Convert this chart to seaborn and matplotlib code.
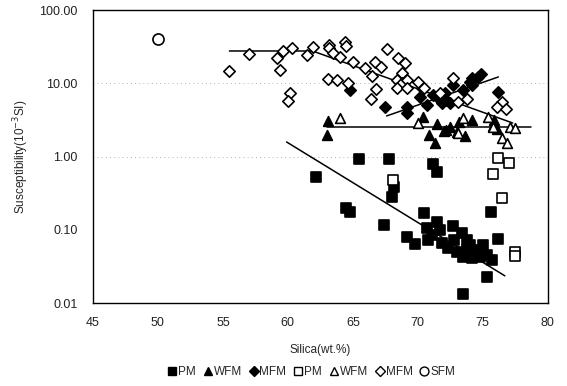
import numpy as np
import pandas as pd
import matplotlib
matplotlib.use("Agg")
import matplotlib.pyplot as plt
import seaborn as sns
from matplotlib.lines import Line2D
from matplotlib.ticker import FixedLocator, FixedFormatter

# ---------------- data ----------------
pm_f_x = [65.5, 67.8, 71.2, 71.5, 62.2, 68.2, 68.0, 64.5, 64.8, 67.4, 70.5, 71.5, 70.7, 71.1,
          70.8, 69.2, 69.8, 72.7, 73.4, 73.8, 71.9, 72.3, 73.0, 73.5, 74.2, 75.0, 75.3, 75.7,
          75.3, 73.5, 75.6, 76.2, 73.8, 74.8, 71.7, 74.0, 72.8, 74.6]
pm_f_y = [0.93, 0.93, 0.79, 0.62, 0.53, 0.38, 0.28, 0.20, 0.175, 0.117, 0.17, 0.128, 0.106, 0.085,
          0.073, 0.080, 0.064, 0.113, 0.091, 0.073, 0.066, 0.057, 0.050, 0.043, 0.041, 0.062, 0.045, 0.039,
          0.023, 0.0133, 0.175, 0.075, 0.053, 0.043, 0.10, 0.062, 0.073, 0.053]

wfm_f_x = [63.1, 63.0, 70.4, 70.9, 71.3, 71.5, 72.2, 72.5, 73.2, 73.6, 74.2, 75.9, 75.8, 73.0, 72.0, 76.1]
wfm_f_y = [3.06, 1.97, 3.47, 1.97, 1.53, 2.79, 2.31, 2.5, 2.97, 1.91, 3.15, 3.15, 2.6, 2.17, 2.2, 2.4]

mfm_f_x = [64.8, 67.5, 69.2, 69.2, 70.3, 70.2, 70.7, 71.2, 72.1, 72.2, 72.5, 71.9, 72.7, 73.5,
           74.0, 74.2, 74.6, 74.9, 74.2, 76.2, 71.7]
mfm_f_y = [8.1, 4.75, 4.75, 3.9, 8.6, 6.5, 5.1, 6.9, 7.4, 5.9, 5.4, 5.4, 9.5, 8.1,
           10.4, 11.8, 12.2, 13.4, 9.5, 7.6, 5.9]

pm_o_x = [76.2, 77.0, 75.8, 76.5, 77.5, 77.5, 68.1]
pm_o_y = [0.96, 0.82, 0.58, 0.27, 0.050, 0.044, 0.48]

wfm_o_x = [64.0, 70.0, 73.5, 73.1, 75.4, 75.8, 77.1, 77.5, 76.5, 76.9]
wfm_o_y = [3.4, 2.87, 3.4, 2.1, 3.5, 2.5, 2.5, 2.45, 1.8, 1.53]

mfm_o_x = [55.5, 57.0, 59.2, 59.4, 59.6, 60.3, 60.2, 60.0, 61.5, 61.9, 63.2, 63.2, 64.4, 64.5,
           63.5, 64.0, 65.0, 65.9, 66.7, 67.2, 66.5, 67.6, 68.5, 69.0, 68.8, 68.4, 68.8, 69.2,
           70.0, 68.4, 69.2, 63.1, 63.8, 64.6, 66.8, 66.4, 72.7, 73.1, 76.5, 76.1, 76.8, 70.5,
           71.7, 73.8]
mfm_o_y = [14.7, 25.1, 22.1, 15.2, 27.6, 30.3, 7.4, 5.7, 24.3, 31.3, 33.4, 30.3, 36.6, 32.3,
           25.9, 22.8, 19.5, 16.2, 19.5, 16.7, 12.6, 29.4, 22.1, 18.9, 13.8, 11.1, 10.1, 11.1,
           10.5, 8.6, 8.6, 11.5, 11.1, 10.1, 8.3, 6.1, 11.8, 5.6, 5.6, 4.75, 4.4, 8.6,
           7.4, 6.1]

sfm_o_x = [50.0]
sfm_o_y = [40.0]

# trend lines (fitted values)
trend_pm_x = [59.9, 76.7]
trend_pm_y = [1.58, 0.0235]
trend_wfm_x = [63.0, 78.7]
trend_wfm_y = [2.5, 2.5]
trend_mfm_f_x = [67.6, 76.2]
trend_mfm_f_y = [3.58, 12.2]
trend_mfm_o_x = [55.5, 61.9, 77.3]
trend_mfm_o_y = [27.6, 27.6, 2.87]

legend_labels = ["PM", "WFM", "MFM", "PM", "WFM", "MFM", "SFM"]
x_ticks = [45, 50, 55, 60, 65, 70, 75, 80]
y_ticks = [0.01, 0.1, 1, 10, 100]
y_tick_labels = ["0.01", "0.10", "1.00", "10.00", "100.00"]

# ---------------- plot ----------------
sns.set_theme(style="white")
plt.rcParams['font.family'] = ['Liberation Sans', 'DejaVu Sans']

fig = plt.figure(figsize=(5.67, 3.86), dpi=100)
ax = fig.add_axes([0.164, 0.215, 0.802, 0.759])

series = [
    (pm_f_x, pm_f_y, "s", True, 7.0),
    (wfm_f_x, wfm_f_y, "^", True, 7.0),
    (mfm_f_x, mfm_f_y, "D", True, 5.8),
    (pm_o_x, pm_o_y, "s", False, 6.5),
    (wfm_o_x, wfm_o_y, "^", False, 7.0),
    (mfm_o_x, mfm_o_y, "D", False, 5.8),
    (sfm_o_x, sfm_o_y, "o", False, 8.0),
]

handles = []
for (xs, ys, m, filled, ms), lab in zip(series, legend_labels):
    df = pd.DataFrame({"x": xs, "y": ys})
    sns.scatterplot(data=df, x="x", y="y", ax=ax, marker=m, s=ms ** 2,
                    facecolor="black" if filled else "white",
                    edgecolor="black", linewidth=1.2, zorder=3, legend=False)
    handles.append(Line2D([], [], linestyle="none", marker=m, markersize=ms * 0.8,
                          markerfacecolor="black" if filled else "white",
                          markeredgecolor="black", markeredgewidth=1.0, label=lab))

for tx, ty in [(trend_pm_x, trend_pm_y), (trend_wfm_x, trend_wfm_y),
               (trend_mfm_f_x, trend_mfm_f_y), (trend_mfm_o_x, trend_mfm_o_y)]:
    sns.lineplot(x=tx, y=ty, ax=ax, color="black", linewidth=1.1, sort=False,
                 estimator=None, zorder=2)

ax.set_yscale("log")
ax.set_xlim(45, 80)
ax.set_ylim(0.01, 100)
ax.xaxis.set_major_locator(FixedLocator(x_ticks))
ax.yaxis.set_major_locator(FixedLocator(y_ticks))
ax.yaxis.set_major_formatter(FixedFormatter(y_tick_labels))
ax.yaxis.set_minor_locator(FixedLocator([]))
ax.tick_params(axis="both", labelsize=9, length=0, colors="#222222")
ax.tick_params(axis="y", pad=11)
ax.tick_params(axis="x", pad=10)

for y in [1, 10]:
    ax.axhline(y, color="#999999", linestyle=(0, (1, 4)), linewidth=0.6, zorder=1)

for sp in ax.spines.values():
    sp.set_visible(True)
    sp.set_color("black")
    sp.set_linewidth(1.0)

ax.set_xlabel("Silica(wt.%)", fontsize=8.5, labelpad=11)
ax.set_ylabel(r"Susceptibility(10$^{-3}$SI)", fontsize=8.5, labelpad=6)

fig.legend(handles=handles, loc="center", bbox_to_anchor=(0.548, 0.036), ncol=7,
           frameon=False, fontsize=8.5, handletextpad=0.0, columnspacing=0.5,
           handlelength=1.0, borderaxespad=0)

fig.savefig("out.png", dpi=100)
